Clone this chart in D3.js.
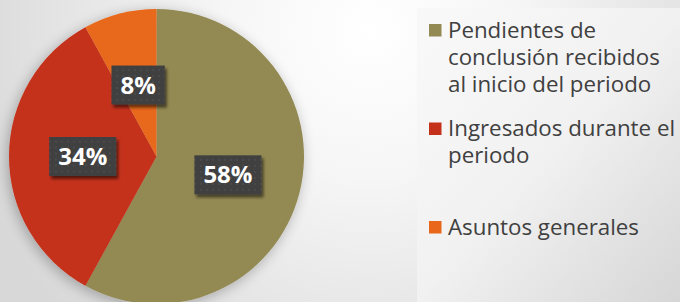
<!DOCTYPE html>
<html>
<head>
<meta charset="utf-8">
<script src="https://cdn.jsdelivr.net/npm/d3@7"></script>
<style>
html,body{margin:0;padding:0;background:#e2e2e2;}
svg{display:block;}
</style>
</head>
<body>
<svg id="chart" width="680" height="302"></svg>
<script>
// ---- data ----
const categories = [
  "Pendientes de conclusión recibidos al inicio del periodo",
  "Ingresados durante el periodo",
  "Asuntos generales"
];
const legendLines = [
  ["Pendientes de", "conclusión recibidos", "al inicio del periodo"],
  ["Ingresados durante el", "periodo"],
  ["Asuntos generales"]
];
const values = [58, 34, 8];
const labels = ["58%", "34%", "8%"];
const colors = ["#938953", "#c4301a", "#e8671a"];

// ---- layout ----
const W = 680, H = 302;
const cx = 156.5, cy = 156.5, R = 147.5;
const svg = d3.select("#chart");
const defs = svg.append("defs");

// background gradient
const bg = defs.append("radialGradient").attr("id", "bg")
  .attr("gradientUnits", "userSpaceOnUse")
  .attr("cx", 370).attr("cy", 30).attr("r", 420);
bg.append("stop").attr("offset", "0%").attr("stop-color", "#ffffff");
bg.append("stop").attr("offset", "35%").attr("stop-color", "#f6f6f6");
bg.append("stop").attr("offset", "100%").attr("stop-color", "#d8d8d8");

const lg = defs.append("linearGradient").attr("id", "legbg")
  .attr("gradientUnits", "userSpaceOnUse")
  .attr("x1", 417).attr("y1", 60).attr("x2", 680).attr("y2", 302);
lg.append("stop").attr("offset", "0%").attr("stop-color", "#f8f8f8");
lg.append("stop").attr("offset", "45%").attr("stop-color", "#f1f1f1");
lg.append("stop").attr("offset", "100%").attr("stop-color", "#d6d6d6");

// pie shadow
const ps = defs.append("filter").attr("id", "pieShadow")
  .attr("x", "-30%").attr("y", "-30%").attr("width", "160%").attr("height", "160%");
ps.append("feGaussianBlur").attr("in", "SourceAlpha").attr("stdDeviation", 7).attr("result", "b");
ps.append("feOffset").attr("in", "b").attr("dx", -2).attr("dy", 3).attr("result", "o");
ps.append("feComponentTransfer").attr("in", "o").attr("result", "s")
  .append("feFuncA").attr("type", "linear").attr("slope", 0.28);
const pm = ps.append("feMerge");
pm.append("feMergeNode").attr("in", "s");
pm.append("feMergeNode").attr("in", "SourceGraphic");

// label box shadow
const bs = defs.append("filter").attr("id", "boxShadow")
  .attr("x", "-30%").attr("y", "-30%").attr("width", "160%").attr("height", "160%");
bs.append("feGaussianBlur").attr("in", "SourceAlpha").attr("stdDeviation", 1.5).attr("result", "b");
bs.append("feOffset").attr("in", "b").attr("dx", 2).attr("dy", 3).attr("result", "o");
bs.append("feComponentTransfer").attr("in", "o").attr("result", "s")
  .append("feFuncA").attr("type", "linear").attr("slope", 0.55);
const bm = bs.append("feMerge");
bm.append("feMergeNode").attr("in", "s");
bm.append("feMergeNode").attr("in", "SourceGraphic");

// dotted pattern for label boxes
const pat = defs.append("pattern").attr("id", "dots")
  .attr("patternUnits", "userSpaceOnUse").attr("width", 6).attr("height", 6);
pat.append("rect").attr("width", 6).attr("height", 6).attr("fill", "#3f3f3f");
pat.append("rect").attr("x", 2).attr("y", 2).attr("width", 2).attr("height", 2).attr("fill", "#4b4b4b");

svg.append("rect").attr("width", W).attr("height", H).attr("fill", "url(#bg)");
svg.append("rect").attr("x", 417).attr("y", 8).attr("width", W - 417).attr("height", H - 8)
  .attr("fill", "url(#legbg)");

// ---- pie ----
const color = d3.scaleOrdinal().domain(categories).range(colors);
const pie = d3.pie().sort(null).value(d => d.value);
const data = categories.map((c, i) => ({ cat: c, value: values[i], label: labels[i] }));
const arcs = pie(data);
const arc = d3.arc().innerRadius(0).outerRadius(R);

const g = svg.append("g").attr("transform", `translate(${cx},${cy})`);
g.append("g").attr("filter", "url(#pieShadow)")
  .selectAll("path").data(arcs).join("path")
  .attr("d", arc)
  .attr("fill", d => color(d.data.cat));

// labels
const lab = g.selectAll("g.lab").data(arcs).join("g").attr("class", "lab")
  .attr("transform", d => `translate(${arc.centroid(d)})`);
const txt = lab.append("text")
  .attr("text-anchor", "middle")
  .attr("dy", "0.36em")
  .attr("font-family", "'Open Sans', 'Noto Sans', sans-serif")
  .attr("font-weight", "bold")
  .attr("font-size", 24)
  .attr("fill", "#ffffff")
  .text(d => d.data.label);
lab.each(function () {
  const gg = d3.select(this);
  const t = gg.select("text");
  const w = t.node().getComputedTextLength();
  gg.insert("rect", "text")
    .attr("x", -w / 2 - 9).attr("y", -19.5)
    .attr("width", w + 18).attr("height", 39)
    .attr("fill", "url(#dots)")
    .attr("filter", "url(#boxShadow)");
});

// ---- legend ----
const ly = d3.scaleLinear().domain([0, 2]).range([37.5, 234.5]);
const leg = svg.append("g").selectAll("g").data(data).join("g")
  .attr("transform", (d, i) => `translate(429,${ly(i)})`);
leg.append("rect")
  .attr("x", 0).attr("y", -13.5).attr("width", 12.5).attr("height", 12.5)
  .attr("fill", d => color(d.cat));
leg.append("text")
  .attr("x", 19)
  .attr("font-family", "'Open Sans', 'Noto Sans', sans-serif")
  .attr("font-size", 22.3)
  .attr("fill", "#404040")
  .selectAll("tspan").data((d, i) => legendLines[i]).join("tspan")
  .attr("x", 19)
  .attr("dy", (d, j) => j === 0 ? 0 : 27)
  .text(d => d);
</script>
</body>
</html>
